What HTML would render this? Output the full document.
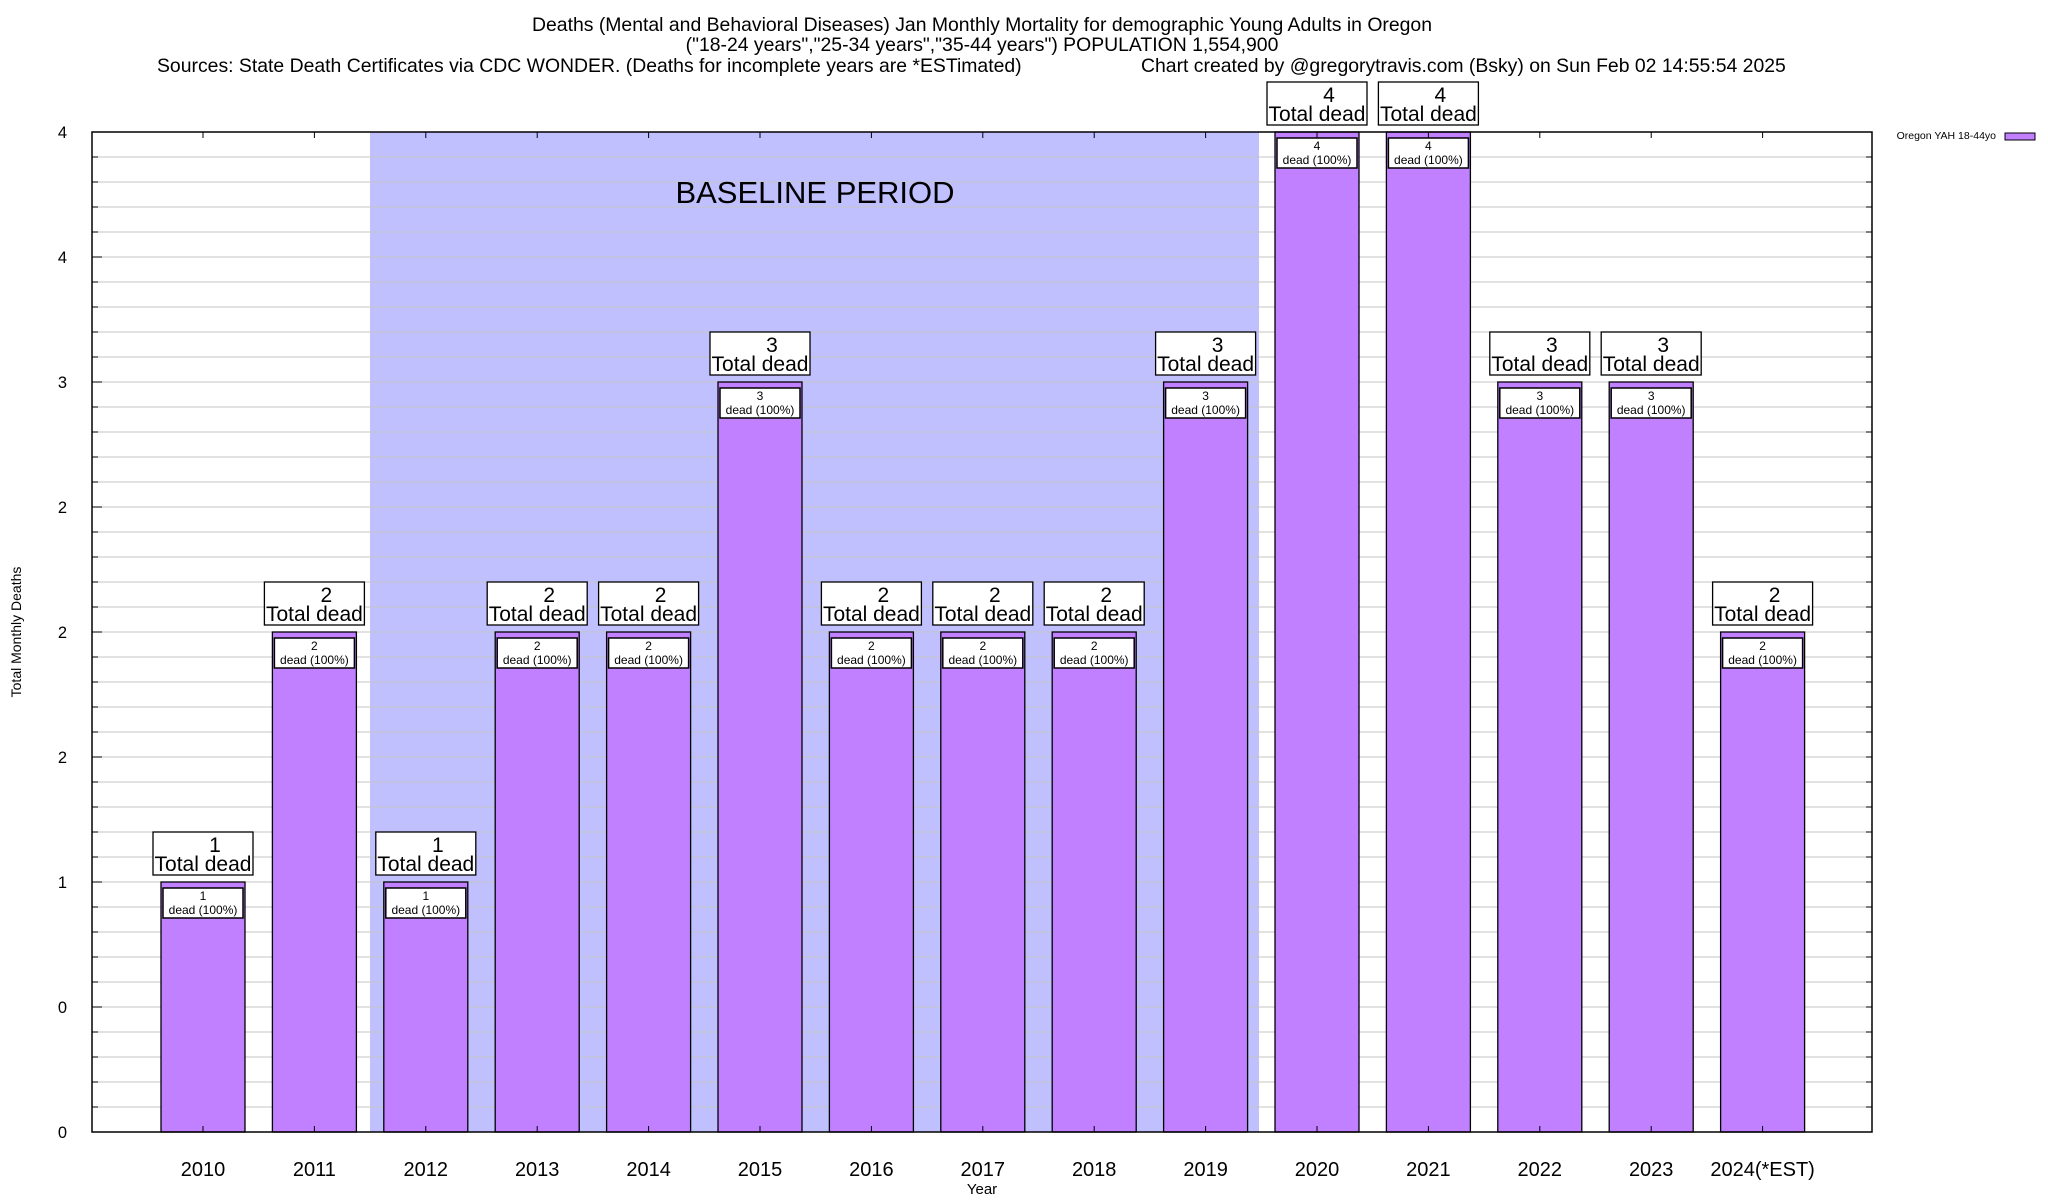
<!DOCTYPE html>
<html><head><meta charset="utf-8"><style>
body{margin:0;background:#fff;}
svg{display:block;font-family:"Liberation Sans",Arial,sans-serif;}
</style></head><body>
<svg id="chart" width="2048" height="1200" viewBox="0 0 2048 1200">
<g font-size="19.4" fill="#000">
<text x="982" y="31" text-anchor="middle">Deaths (Mental and Behavioral Diseases) Jan Monthly Mortality for demographic Young Adults in Oregon</text>
<text x="982" y="51" text-anchor="middle">("18-24 years","25-34 years","35-44 years") POPULATION 1,554,900</text>
<text x="157" y="72">Sources: State Death Certificates via CDC WONDER. (Deaths for incomplete years are *ESTimated)</text>
<text x="1141" y="72">Chart created by @gregorytravis.com (Bsky) on Sun Feb 02 14:55:54 2025</text>
</g>
<rect x="370" y="132" width="889" height="1000" fill="#c0c0ff"/>
<g id="grid"></g>
<text x="815" y="203" font-size="31" text-anchor="middle">BASELINE PERIOD</text>
<g id="bars"></g>
<rect x="92" y="132" width="1780" height="1000" fill="none" stroke="#000" stroke-width="1.5"/>
<g id="ticks"></g>
<text transform="translate(21,632) rotate(-90)" font-size="14" text-anchor="middle">Total Monthly Deaths</text>
<text x="982" y="1194" font-size="15" text-anchor="middle">Year</text>
<g>
<text x="1996" y="139" font-size="10.5" text-anchor="end">Oregon YAH 18-44yo</text>
<rect x="2005" y="133" width="30" height="7" fill="#c080ff" stroke="#000"/>
</g>
</svg>
<script>
const categories=["2010","2011","2012","2013","2014","2015","2016","2017","2018","2019","2020","2021","2022","2023","2024(*EST)"];
const values=[1,2,1,2,2,3,2,2,2,3,4,4,3,3,2];
const yTickValues=[0,0.5,1,1.5,2,2.5,3,3.5,4];
const yTickLabels=["0","0","1","2","2","2","3","4","4"];
const NS="http://www.w3.org/2000/svg";
const L=92,R=1872,T=132,B=1132,yMax=4;
const y=v=>B-(v/yMax)*(B-T);
const step=111.4,x0=203;
const x=i=>x0+i*step;
function mk(t,a,p){const e=document.createElementNS(NS,t);for(const k in a)e.setAttribute(k,a[k]);p.appendChild(e);return e;}
const grid=document.getElementById('grid'),bars=document.getElementById('bars'),ticks=document.getElementById('ticks');
for(let k=1;k<40;k++){const v=k*0.1;const gl=mk('line',{x1:L,x2:R,y1:y(v),y2:y(v),stroke:'#c4c4c4','stroke-width':1},grid);


mk('line',{x1:L,x2:L+6,y1:y(v),y2:y(v),stroke:'#000'},ticks);mk('line',{x1:R,x2:R-6,y1:y(v),y2:y(v),stroke:'#000'},ticks);}
yTickValues.forEach((v,i)=>{const t=mk('text',{x:67,y:y(v)+6,'font-size':16.5,'text-anchor':'end'},ticks);t.textContent=yTickLabels[i];


mk('line',{x1:L,x2:L+10,y1:y(v),y2:y(v),stroke:'#000'},ticks);});
categories.forEach((c,i)=>{const cx=x(i),v=values[i],top=y(v);
const g=mk('g',{},bars);


mk('rect',{x:cx-42,y:top,width:84,height:B-top,fill:'#c080ff',stroke:'#000','stroke-width':1.3},g);
mk('rect',{x:cx-40,y:top+6,width:80,height:30,fill:'#fff',stroke:'#000','stroke-width':1.5},g);
let t=mk('text',{x:cx,y:top+18,'font-size':12,'text-anchor':'middle'},g);t.textContent=v;
t=mk('text',{x:cx,y:top+32,'font-size':12,'text-anchor':'middle'},g);t.textContent='dead (100%)';
mk('rect',{x:cx-50,y:top-50,width:100,height:43,fill:'#fff',stroke:'#000','stroke-width':1.3},g);
t=mk('text',{x:cx+12,y:top-30,'font-size':21,'text-anchor':'middle'},g);t.textContent=v;
t=mk('text',{x:cx,y:top-11,'font-size':21,'text-anchor':'middle'},g);t.textContent='Total dead';
const xl=mk('text',{x:cx,y:1176,'font-size':20,'text-anchor':'middle'},ticks);xl.textContent=c;


mk('line',{x1:cx,x2:cx,y1:T,y2:T+6,stroke:'#000'},ticks);mk('line',{x1:cx,x2:cx,y1:B,y2:B-6,stroke:'#000'},ticks);
});
</script>
</body></html>
